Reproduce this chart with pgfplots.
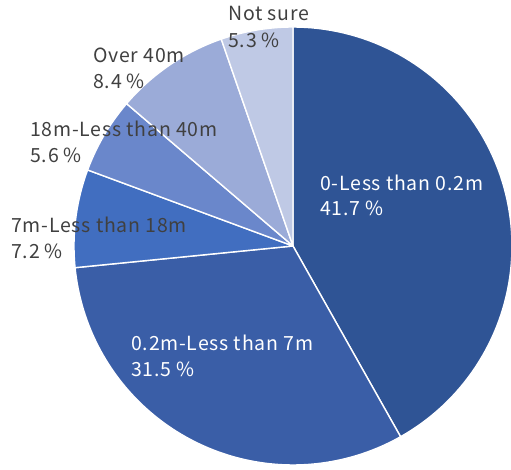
\documentclass[border=0pt]{standalone}
\usepackage{pgfplots}
\pgfplotsset{compat=1.18}
\usepackage{fontspec}
\setmainfont{Noto Sans CJK JP}[LetterSpace=4]

\definecolor{s1}{HTML}{2F5495}
\definecolor{s2}{HTML}{3A5EA7}
\definecolor{s3}{HTML}{416EC0}
\definecolor{s4}{HTML}{6A87CB}
\definecolor{s5}{HTML}{9BABD8}
\definecolor{s6}{HTML}{BFC9E5}
\definecolor{lbl}{HTML}{404040}

\begin{document}
\begin{tikzpicture}
% shares (%), clockwise from 12 o'clock
\def\vA{41.7}\def\vB{31.5}\def\vC{7.2}\def\vD{5.6}\def\vE{8.4}\def\vF{5.3}
\pgfmathsetmacro\tot{\vA+\vB+\vC+\vD+\vE+\vF}
\pgfmathsetmacro\aO{90}
\pgfmathsetmacro\aA{\aO-\vA/\tot*360}
\pgfmathsetmacro\aB{\aA-\vB/\tot*360}
\pgfmathsetmacro\aC{\aB-\vC/\tot*360}
\pgfmathsetmacro\aD{\aC-\vD/\tot*360}
\pgfmathsetmacro\aE{\aD-\vE/\tot*360}
\pgfmathsetmacro\aF{\aE-\vF/\tot*360}
\def\cx{293}\def\cy{224}\def\r{219}
\begin{axis}[
  hide axis, scale only axis,
  width=511pt, height=470pt,
  xmin=0, xmax=511, ymin=0, ymax=470,
  clip=true,
  every axis plot/.append style={draw=white, line width=1.4pt, samples=90, line join=round},
]
\path (rel axis cs:0,0) rectangle (rel axis cs:1,1);
\addplot[fill=s1, domain=\aA:\aO] ({\cx+\r*cos(x)},{\cy+\r*sin(x)}) -- (axis cs:\cx,\cy) -- cycle;
\addplot[fill=s2, domain=\aB:\aA] ({\cx+\r*cos(x)},{\cy+\r*sin(x)}) -- (axis cs:\cx,\cy) -- cycle;
\addplot[fill=s3, domain=\aC:\aB] ({\cx+\r*cos(x)},{\cy+\r*sin(x)}) -- (axis cs:\cx,\cy) -- cycle;
\addplot[fill=s4, domain=\aD:\aC] ({\cx+\r*cos(x)},{\cy+\r*sin(x)}) -- (axis cs:\cx,\cy) -- cycle;
\addplot[fill=s5, domain=\aE:\aD] ({\cx+\r*cos(x)},{\cy+\r*sin(x)}) -- (axis cs:\cx,\cy) -- cycle;
\addplot[fill=s6, domain=\aF:\aE] ({\cx+\r*cos(x)},{\cy+\r*sin(x)}) -- (axis cs:\cx,\cy) -- cycle;

\tikzset{lab/.style={anchor=base west, inner sep=0pt, font=\fontsize{19.5}{22}\selectfont}}
\node[lab, text=white] at (axis cs:320,279) {0-Less than 0.2m};
\node[lab, text=white] at (axis cs:320,254) {\vA\ \%};
\node[lab, text=white] at (axis cs:131,119) {0.2m-Less than 7m};
\node[lab, text=white] at (axis cs:131,93) {\vB\ \%};
\node[lab, text=lbl] at (axis cs:11,237) {7m-Less than 18m};
\node[lab, text=lbl] at (axis cs:11,211) {\vC\ \%};
\node[lab, text=lbl] at (axis cs:30,333) {18m-Less than 40m};
\node[lab, text=lbl] at (axis cs:30,307) {\vD\ \%};
\node[lab, text=lbl] at (axis cs:93,407) {Over 40m};
\node[lab, text=lbl] at (axis cs:93,381) {\vE\ \%};
\node[lab, text=lbl] at (axis cs:228,449) {Not sure};
\node[lab, text=lbl] at (axis cs:228,422) {\vF\ \%};
\end{axis}
\end{tikzpicture}
\end{document}
